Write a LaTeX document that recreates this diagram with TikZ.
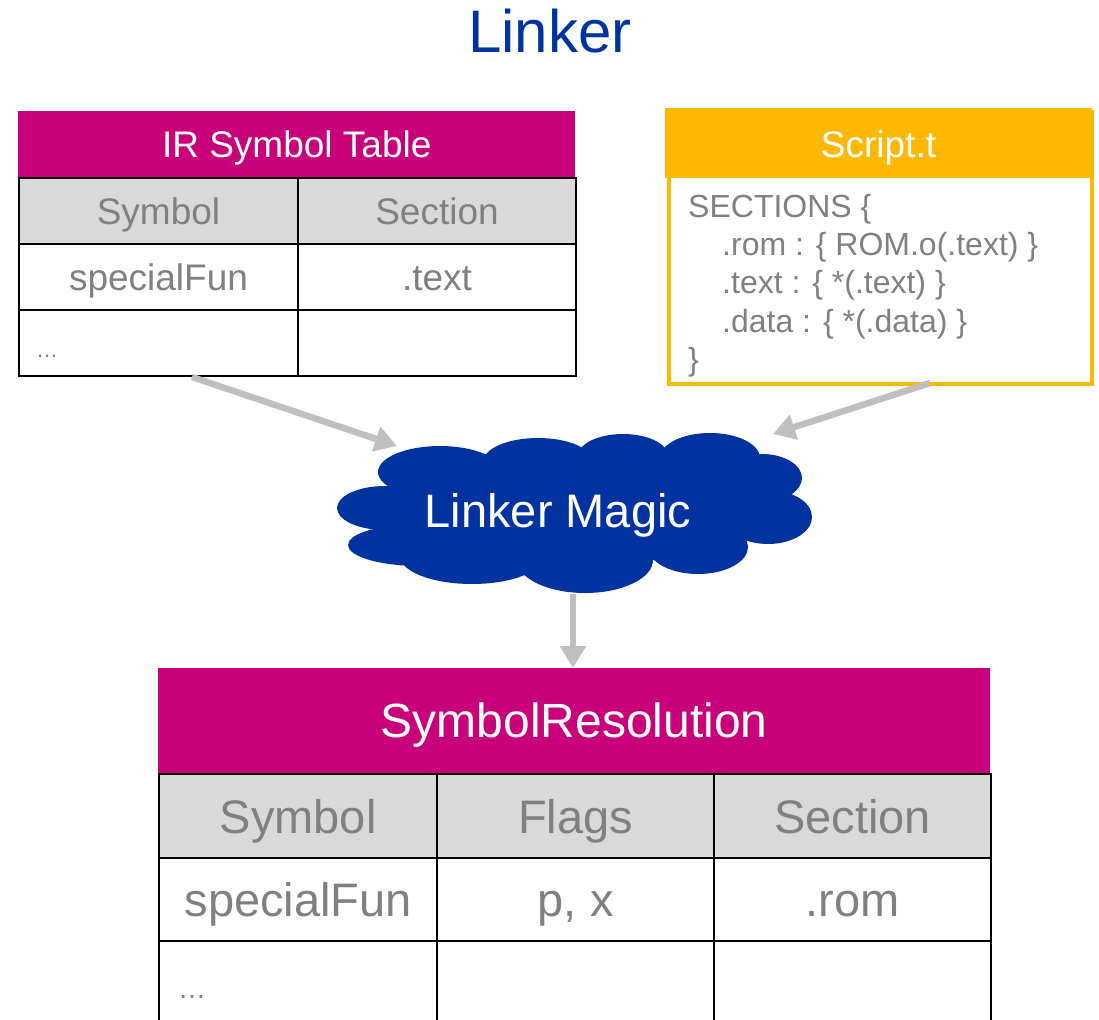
\documentclass[tikz,border=0pt]{standalone}
\usepackage{fontspec}
\setmainfont{Liberation Sans}
\usetikzlibrary{arrows.meta}

\definecolor{titleblue}{HTML}{0033A0}
\definecolor{cloudblue}{HTML}{0033A0}
\definecolor{magentahd}{HTML}{C8007A}
\definecolor{orangehd}{HTML}{FFB800}
\definecolor{cellgray}{HTML}{D9D9D9}
\definecolor{txtgray}{HTML}{808080}
\definecolor{arrowgray}{HTML}{BFBFBF}

\tikzset{
  hdr/.style={fill=magentahd, draw=none, inner sep=0pt, anchor=north west,
    text=white},
  cellS/.style={draw=black, line width=2pt, inner sep=0pt, anchor=north west,
    text=txtgray, font=\fontsize{37}{44}\selectfont, text height=26.6pt, text depth=0pt},
  cellL/.style={draw=black, line width=2.4pt, inner sep=0pt, anchor=north west,
    text=txtgray, font=\fontsize{47}{56}\selectfont, text height=33.8pt, text depth=0pt},
  codeline/.style={anchor=base west, inner sep=0pt, text=txtgray,
    font=\fontsize{32}{38}\selectfont},
  flow/.style={draw=arrowgray, line width=6.5pt,
    -{Triangle[length=22pt, width=25pt]}},
}

\begin{document}
\begin{tikzpicture}[x=1pt, y=-1pt]
\useasboundingbox (0,0) rectangle (1099,1019);

% title
\node[anchor=base, text=titleblue, font=\fontsize{60}{70}\selectfont, inner sep=0pt]
  (title) at (550,53) {Linker};

% ---------- IR symbol table ----------
\node[hdr, minimum width=557pt, minimum height=66pt,
  font=\fontsize{37}{44}\selectfont, text height=26.6pt, text depth=0pt]
  (irhead) at (18,111) {IR Symbol Table};
\node[cellS, fill=cellgray, minimum width=279pt, minimum height=66pt] (ir11) at (18,177) {Symbol};
\node[cellS, fill=cellgray, minimum width=278pt, minimum height=66pt] (ir12) at (297,177) {Section};
\node[cellS, minimum width=279pt, minimum height=66pt] (ir21) at (18,243) {specialFun};
\node[cellS, minimum width=278pt, minimum height=66pt] (ir22) at (297,243) {.text};
\node[cellS, minimum width=279pt, minimum height=66pt] (ir31) at (18,309) {};
\node[cellS, minimum width=278pt, minimum height=66pt] (ir32) at (297,309) {};
\node[anchor=base west, inner sep=0pt, text=txtgray, font=\fontsize{22}{26}\selectfont]
  (irdots) at (36,357) {…};

% ---------- linker script ----------
\node[draw=orangehd, line width=4pt, fill=white, anchor=north west, inner sep=0pt,
  minimum width=423pt, minimum height=272pt] (script) at (667,110) {};
\fill[orangehd] (665,108) rectangle (1092,178);
\node[anchor=base, inner sep=0pt, text=white, font=\fontsize{37}{44}\selectfont]
  (scripthead) at (878.5,158) {Script.t};
\node[codeline] (code1) at (688,217) {SECTIONS \{};
\node[codeline] (code2) at (722,255) {.rom : \{ ROM.o(.text) \}};
\node[codeline] (code3) at (722,293.5) {.text : \{ *(.text) \}};
\node[codeline] (code4) at (722,332) {.data : \{ *(.data) \}};
\node[codeline] (code5) at (688,370) {\}};

% ---------- cloud ----------
\begin{scope}[fill=cloudblue]
  \fill (575,510) ellipse [x radius=190, y radius=55];
  \fill (385,508) ellipse [x radius=48, y radius=22];
  \fill (420,545) ellipse [x radius=72, y radius=21];
  \fill (440,472) ellipse [x radius=62, y radius=26];
  \fill (538,462) ellipse [x radius=55, y radius=24];
  \fill (623,456) ellipse [x radius=45, y radius=22];
  \fill (710,458) ellipse [x radius=50, y radius=25];
  \fill (762,478) ellipse [x radius=40, y radius=24];
  \fill (768,517) ellipse [x radius=44, y radius=27];
  \fill (698,547) ellipse [x radius=50, y radius=27];
  \fill (585,560) ellipse [x radius=68, y radius=33];
  \fill (472,556) ellipse [x radius=72, y radius=28];
\end{scope}
\node[anchor=base, inner sep=0pt, text=white, font=\fontsize{47}{56}\selectfont]
  (magic) at (558,527) {Linker Magic};

% ---------- symbol resolution table ----------
\node[hdr, minimum width=832pt, minimum height=105pt,
  font=\fontsize{48}{58}\selectfont, text height=34.5pt, text depth=0pt]
  (srhead) at (158,668) {SymbolResolution};
\node[cellL, fill=cellgray, minimum width=278pt, minimum height=84pt] (sr11) at (158,773) {Symbol};
\node[cellL, fill=cellgray, minimum width=277pt, minimum height=84pt] (sr12) at (436,773) {Flags};
\node[cellL, fill=cellgray, minimum width=277pt, minimum height=84pt] (sr13) at (713,773) {Section};
\node[cellL, minimum width=278pt, minimum height=83pt] (sr21) at (158,857) {specialFun};
\node[cellL, minimum width=277pt, minimum height=83pt] (sr22) at (436,857) {p, x};
\node[cellL, minimum width=277pt, minimum height=83pt] (sr23) at (713,857) {.rom};
\node[cellL, minimum width=278pt, minimum height=90pt] (sr31) at (158,940) {};
\node[cellL, minimum width=277pt, minimum height=90pt] (sr32) at (436,940) {};
\node[cellL, minimum width=277pt, minimum height=90pt] (sr33) at (713,940) {};
\node[anchor=base west, inner sep=0pt, text=txtgray, font=\fontsize{28}{32}\selectfont]
  (srdots) at (178,998) {…};

% ---------- connectors ----------
\coordinate (irout) at (192,377);
\coordinate (magicinL) at (397,446);
\coordinate (scriptout) at (930,383);
\coordinate (magicinR) at (773,434);
\coordinate (magicout) at (573,594);
\coordinate (srin) at (573,668);
\draw[flow] (irout) -- (magicinL);
\draw[flow] (scriptout) -- (magicinR);
\draw[flow] (magicout) -- (srin);
\end{tikzpicture}
\end{document}
